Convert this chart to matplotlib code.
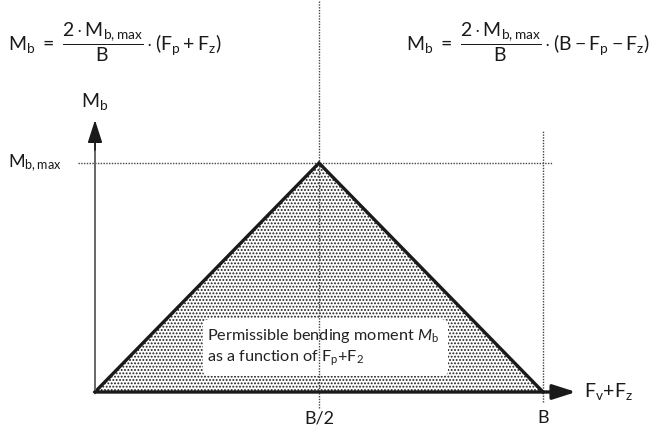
import matplotlib
matplotlib.use("Agg")
import matplotlib.pyplot as plt
from matplotlib.patches import Polygon, FancyBboxPatch

plt.rcParams['font.family'] = ['Lato', 'DejaVu Sans']
plt.rcParams['mathtext.fontset'] = 'custom'
plt.rcParams['mathtext.rm'] = 'Lato'
plt.rcParams['mathtext.it'] = 'Lato:italic'
plt.rcParams['hatch.linewidth'] = 0.9

# Data
B = 1.0
M_max = 1.0
x_pts = [0.0, B / 2, B]
y_pts = [0.0, M_max, 0.0]
tick_labels = ['B/2', 'B']

W, H = 654, 426
fig = plt.figure(figsize=(W / 100, H / 100), dpi=100)
ax = fig.add_axes([0, 0, 1, 1])
# pixel layout: x=95 -> 0, x=543 -> B ; y=392 -> 0, y=163 -> M_max
x0p, x1p, y0p, y1p = 95, 543, 392, 163
sx = (x1p - x0p) / B
sy = (y0p - y1p) / M_max
ax.set_xlim(-x0p / sx, (W - x0p) / sx)
ax.set_ylim(-(H - y0p) / sy, y0p / sy)
ax.axis('off')

def px(xp):
    return (xp - x0p) / sx

def py(yp):
    return (y0p - yp) / sy

ink = '#1a1a1a'
renderer = fig.canvas.get_renderer()

def fit_width(t, target_px):
    for _ in range(3):
        w = t.get_window_extent(renderer).width
        t.set_fontsize(t.get_fontsize() * target_px / w)

# dotted fill triangle
tri = Polygon(list(zip(x_pts, y_pts)), closed=True, facecolor='white',
              edgecolor='#1e1e1e', lw=0, hatch='.....', zorder=1)
ax.add_patch(tri)
ax.plot(x_pts, y_pts, color=ink, lw=2.4, solid_joinstyle='miter', zorder=4)

# white label box
box = FancyBboxPatch((px(203), py(376)), px(448) - px(203), py(319) - py(376),
                     boxstyle='round,pad=0,rounding_size=0.02',
                     facecolor='white', edgecolor='none', zorder=2)
ax.add_patch(box)

# reference dotted lines
dot = dict(color='#444444', lw=1.0, linestyle=(0, (1, 1)), zorder=3)
ax.plot([B / 2, B / 2], [py(408), py(0)], **dot)
ax.plot([B, B], [py(402), py(130)], **dot)
ax.plot([px(78), px(553)], [M_max, M_max], **dot)

# axes arrows
ax.plot([0, 0], [0, py(140)], color='#666666', lw=1.4, zorder=4)
ax.annotate('', xy=(0, py(120)), xytext=(0, py(150)),
            arrowprops=dict(arrowstyle='-|>,head_length=1.4,head_width=0.45',
                            color=ink, lw=1.2, shrinkA=0, shrinkB=0), zorder=5)
ax.annotate('', xy=(px(576), 0), xytext=(0, 0),
            arrowprops=dict(arrowstyle='-|>,head_length=1.4,head_width=0.45',
                            color=ink, lw=2.4, shrinkA=0, shrinkB=0), zorder=5)

# tick labels
ax.text(B / 2, py(418), tick_labels[0], ha='center', va='center', fontsize=13, color=ink)
ax.text(B, py(418), tick_labels[1], ha='center', va='center', fontsize=13, color=ink)

# axis labels
ax.text(px(584), 0, r'F$_\mathrm{v}$+F$_\mathrm{z}$', ha='left', va='center',
        fontsize=14, color=ink)
ax.text(0, py(102), r'M$_\mathrm{b}$', ha='center', va='center', fontsize=14, color=ink)
ax.text(px(8), M_max, r'M$_\mathrm{b,max}$', ha='left', va='center', fontsize=13, color=ink)

# box text
boxfont = dict(fontsize=13, color='#222222', ha='left', va='center', zorder=6)
t1 = ax.text(px(207), py(336), r'Permissible bending moment $\mathit{M}_\mathrm{b}$', **boxfont)
fit_width(t1, 231)
boxfont['fontsize'] = t1.get_fontsize()
ax.text(px(207), py(358), r'as a function of F$_\mathrm{p}$+F$_\mathrm{2}$', **boxfont)

# formulas
f1 = r'$\mathrm{M_b}\ =\ \dfrac{2\cdot\mathrm{M_{b,max}}}{\mathrm{B}}\cdot(\mathrm{F_p}+\mathrm{F_z})$'
f2 = r'$\mathrm{M_b}\ =\ \dfrac{2\cdot\mathrm{M_{b,max}}}{\mathrm{B}}\cdot(\mathrm{B}-\mathrm{F_p}-\mathrm{F_z})$'
ax.text(px(8), py(42), f1, ha='left', va='center', fontsize=14, color=ink)
ax.text(px(650), py(42), f2, ha='right', va='center', fontsize=14, color=ink)

fig.savefig('out.png', dpi=100)
